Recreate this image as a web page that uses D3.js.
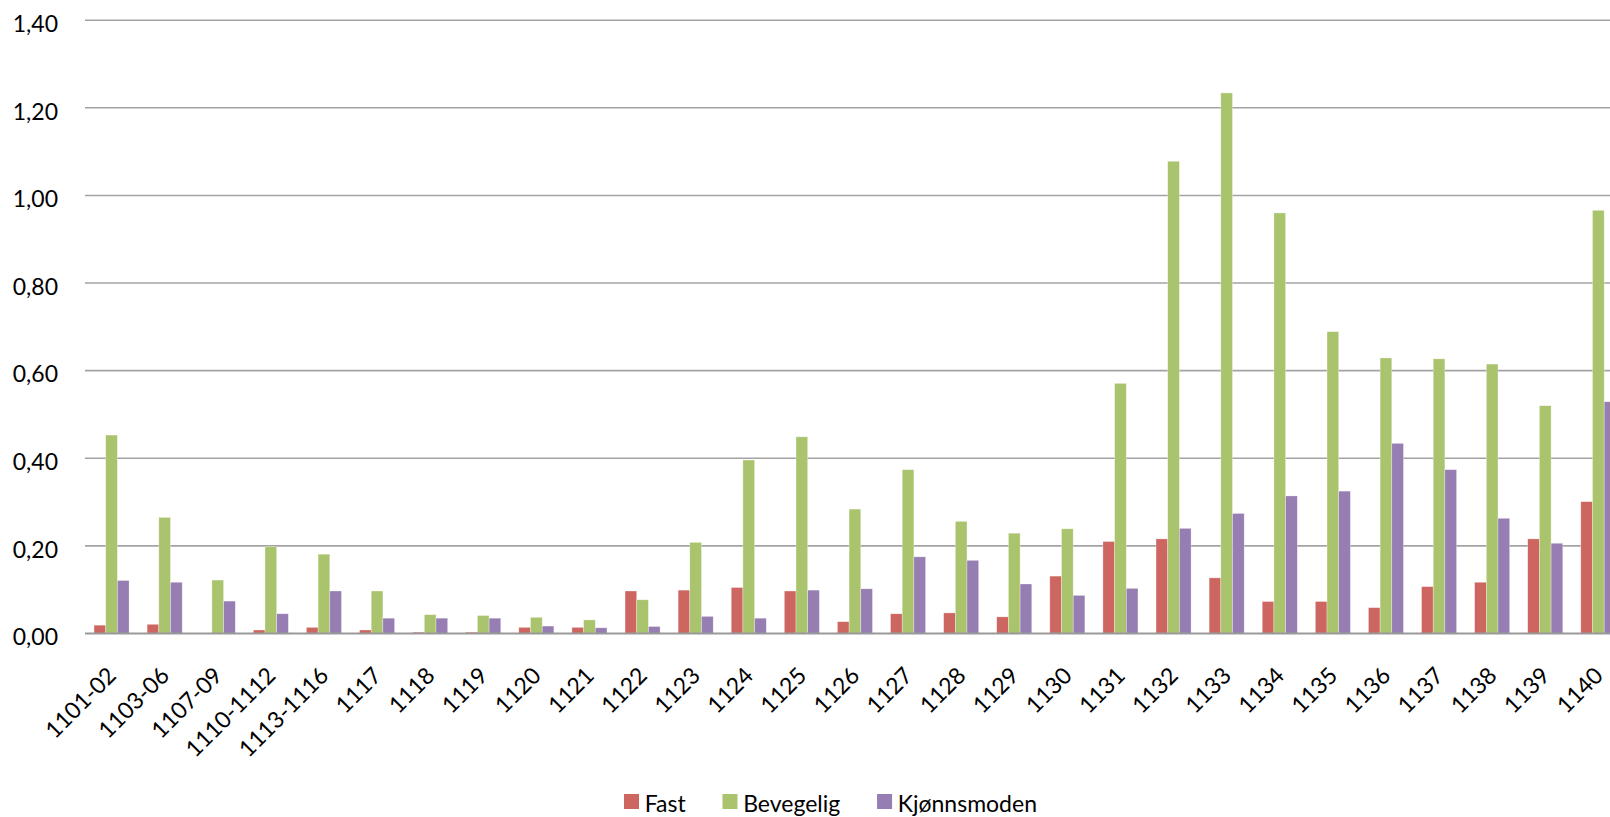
<!DOCTYPE html>
<html>
<head>
<meta charset="utf-8">
<script src="https://cdn.jsdelivr.net/npm/d3@7"></script>
<style>
  html, body { margin: 0; padding: 0; background: #fff; overflow: hidden; }
  svg { display: block; }
  text { font-family: Lato, "Open Sans", sans-serif; fill: #000; }
</style>
</head>
<body>
<svg id="chart" width="1610" height="817"></svg>
<script>
const categories = ["1101-02","1103-06","1107-09","1110-1112","1113-1116","1117","1118","1119","1120","1121","1122","1123","1124","1125","1126","1127","1128","1129","1130","1131","1132","1133","1134","1135","1136","1137","1138","1139","1140"];
const seriesNames = ["Fast", "Bevegelig", "Kjønnsmoden"];
const fast      = [0.019,0.021,0.000,0.008,0.014,0.008,0.003,0.003,0.014,0.014,0.097,0.099,0.105,0.097,0.027,0.045,0.047,0.038,0.131,0.210,0.216,0.127,0.073,0.073,0.059,0.107,0.117,0.216,0.301];
const bevegelig = [0.453,0.265,0.122,0.198,0.181,0.097,0.043,0.041,0.037,0.031,0.077,0.208,0.396,0.449,0.284,0.374,0.256,0.229,0.239,0.571,1.078,1.234,0.960,0.689,0.629,0.627,0.615,0.520,0.966];
const kjonnsmoden = [0.121,0.117,0.074,0.045,0.097,0.035,0.035,0.035,0.017,0.013,0.016,0.039,0.035,0.099,0.102,0.175,0.167,0.113,0.087,0.103,0.240,0.274,0.314,0.325,0.434,0.374,0.263,0.206,0.529];
const yTicks = [0, 0.2, 0.4, 0.6, 0.8, 1.0, 1.2, 1.4];
const colors = ["#CD6661", "#AAC46E", "#967DB2"];

const seriesValues = [fast, bevegelig, kjonnsmoden];
const svg = d3.select("#chart");

const left = 85, step = 53.1;
const x0 = d3.scaleBand().domain(categories)
  .range([left, left + step * categories.length])
  .paddingInner(0.34).paddingOuter(0.17);
const x1 = d3.scaleBand().domain(seriesNames).range([0, x0.bandwidth()]);
const y = d3.scaleLinear().domain([0, 1.4]).range([633.5, 20.2]);

const fmt = v => d3.format(".2f")(v).replace(".", ",");

// gridlines
svg.append("g").selectAll("line").data(yTicks.filter(d => d > 0)).join("line")
  .attr("x1", left).attr("x2", 1610)
  .attr("y1", d => y(d)).attr("y2", d => y(d))
  .attr("stroke", "#A3A3A3").attr("stroke-width", 1.6);

// y labels
svg.append("g").selectAll("text").data(yTicks).join("text")
  .attr("x", 58).attr("y", d => y(d) + 11.8)
  .attr("text-anchor", "end").attr("font-size", 23)
  .text(fmt);

// bars
const groups = svg.append("g").selectAll("g").data(categories).join("g")
  .attr("transform", d => `translate(${x0(d)},0)`);
groups.selectAll("rect")
  .data((d, i) => seriesNames.map((s, j) => ({ s, j, v: seriesValues[j][i] })))
  .join("rect")
  .attr("x", d => x1(d.s))
  .attr("width", x1.bandwidth())
  .attr("y", d => y(d.v))
  .attr("height", d => y(0) - y(d.v))
  .attr("fill", d => colors[d.j])
  .attr("stroke", "#fff").attr("stroke-opacity", 0.5).attr("stroke-width", 0.6);

// x axis line
svg.append("line").attr("x1", left).attr("x2", 1610)
  .attr("y1", y(0)).attr("y2", y(0))
  .attr("stroke", "#999").attr("stroke-width", 2);

// x labels
svg.append("g").selectAll("text").data(categories).join("text")
  .attr("transform", d => `translate(${x0(d) + x0.bandwidth() / 2 + 6},677) rotate(-45)`)
  .attr("text-anchor", "end").attr("font-size", 23)
  .text(d => d);

// legend
const leg = svg.append("g");
const items = leg.selectAll("g").data(seriesNames).join("g");
items.append("rect").attr("width", 15).attr("height", 15).attr("y", 794)
  .attr("fill", (d, i) => colors[i]);
items.append("text").attr("y", 811.5).attr("font-size", 23).attr("x", 20.7).text(d => d);
const widths = [];
items.each(function() { widths.push(d3.select(this).select("text").node().getComputedTextLength()); });
const legStart = 624, legEnd = 1037;
const used = d3.sum(widths, w => 20.7 + w);
const gap = (legEnd - legStart - used) / (seriesNames.length - 1);
let pos = legStart;
const offs = widths.map(w => { const p = pos; pos += 20.7 + w + gap; return p; });
items.attr("transform", (d, i) => `translate(${offs[i]},0)`);
</script>
</body>
</html>
